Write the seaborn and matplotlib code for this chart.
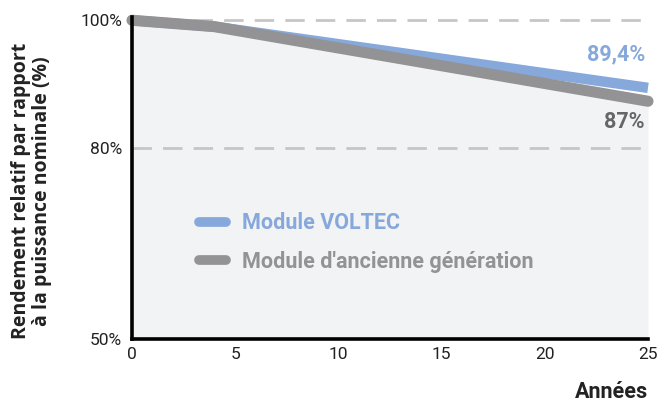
import numpy as np
import pandas as pd
import seaborn as sns
import matplotlib
matplotlib.use("Agg")
import matplotlib.pyplot as plt

annees_voltec = [0, 4, 25]
rendement_voltec = [100, 99, 89.4]
annees_ancien = [0, 4, 25]
rendement_ancien = [100, 99, 87.3]
y_ticks = [50, 80, 100]
x_ticks = [0, 5, 10, 15, 20, 25]

bleu = "#87a8da"
gris = "#939396"

sns.set_style("white")
plt.rcParams['font.family'] = ['Roboto', 'DejaVu Sans']

fig = plt.figure(figsize=(6.72, 4.07), dpi=100)
ax = fig.add_axes([0.1964, 0.167, 0.7679, 0.791])

df_v = pd.DataFrame({"annee": annees_voltec, "val": rendement_voltec})
df_a = pd.DataFrame({"annee": annees_ancien, "val": rendement_ancien})

ax.fill_between(df_a["annee"], df_a["val"], 50, color="#f2f3f5", lw=0, zorder=1)
for yv in [80, 100]:
    ax.axhline(yv, color="#c6c6c8", lw=2, dashes=(7, 4), zorder=1.5)

sns.lineplot(data=df_v, x="annee", y="val", ax=ax, color=bleu, lw=7.5,
             label="Module VOLTEC", solid_capstyle="butt", zorder=3, clip_on=False)
sns.lineplot(data=df_a, x="annee", y="val", ax=ax, color=gris, lw=8,
             label="Module d'ancienne génération", solid_capstyle="round", zorder=4,
             clip_on=False)

ax.set_xlim(0, 25)
ax.set_ylim(50, 100.5)
ax.set_xticks(x_ticks)
ax.set_yticks(y_ticks)
ax.set_yticklabels([f"{v}%" for v in y_ticks])
ax.tick_params(axis="both", length=0, labelsize=12.5, colors="#222222", pad=6)
ax.tick_params(axis="y", pad=7)

for s in ["top", "right"]:
    ax.spines[s].set_visible(False)
for s in ["left", "bottom"]:
    ax.spines[s].set_color("black")
    ax.spines[s].set_linewidth(2.6)
    ax.spines[s].set_zorder(5)

ax.set_xlabel("")
ax.set_ylabel("")
fig.text(0.965, 0.01, "Années", ha="right", va="bottom", fontsize=15.5,
         fontweight="bold", color="#222222")
fig.text(0.047, 0.53, "Rendement relatif par rapport\nà la puissance nominale (%)",
         rotation=90, ha="center", va="center", fontsize=14, fontweight="bold",
         color="#222222", linespacing=1.05, family=["Open Sans", "DejaVu Sans"])

ax.text(24.85, 93.0, "89,4%", color=bleu, fontsize=15.5, fontweight="bold",
        ha="right", va="bottom")
ax.text(24.85, 85.8, "87%", color="#666666", fontsize=15.5, fontweight="bold",
        ha="right", va="top")

leg = ax.legend(loc="center left", bbox_to_anchor=(0.13, 0.30), frameon=False,
                borderpad=0, borderaxespad=0,
                handlelength=1.25, handletextpad=0.75, labelspacing=0.75,
                fontsize=15.5, labelcolor="linecolor")
for t in leg.get_texts():
    t.set_fontweight("bold")
for h in leg.get_lines():
    h.set_solid_capstyle("round")
    h.set_linewidth(7)

fig.savefig("out.png", dpi=100)
